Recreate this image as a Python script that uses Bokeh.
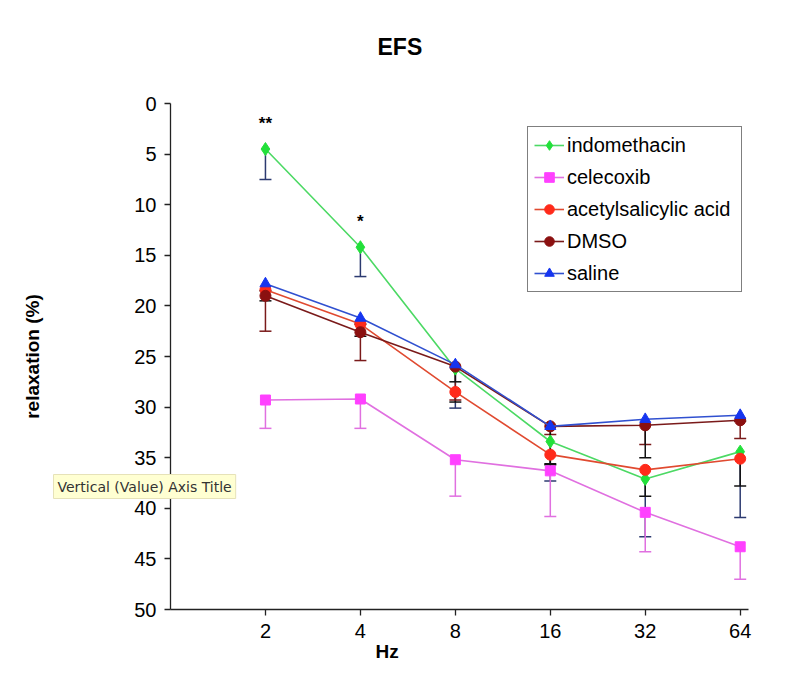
from bokeh.plotting import figure
from bokeh.models import (ColumnDataSource, Range1d, FixedTicker, NumeralTickFormatter,
                          Whisker, TeeHead, Legend, LegendItem, Title, Label)
from bokeh.core.properties import value
from bokeh.embed import file_html
from bokeh.resources import INLINE

# ---------------- data ----------------
freq = [2, 4, 8, 16, 32, 64]
y_ticks = [0, 5, 10, 15, 20, 25, 30, 35, 40, 45, 50]

indomethacin = [4.5, 14.2, 26.2, 33.4, 37.1, 34.4]
indomethacin_err = [3.0, 2.9, 3.9, 3.9, 5.7, 6.5]
celecoxib = [29.3, 29.2, 35.2, 36.3, 40.4, 43.8]
celecoxib_err = [2.8, 2.9, 3.6, 4.5, 3.9, 3.2]
acetylsalicylic = [18.4, 21.8, 28.5, 34.7, 36.2, 35.1]
acetylsalicylic_err = [1.1, 1.2, 1.0, 1.0, 2.6, 2.7]
dmso = [19.0, 22.6, 26.0, 31.9, 31.8, 31.3]
dmso_err = [3.5, 2.8, 3.3, 0.8, 1.9, 1.8]
saline = [17.8, 21.2, 25.8, 31.9, 31.2, 30.8]
saline_err = [0.7, 0.6, 1.7, 3.7, 3.8, 0.6]

sig_freq = [2, 4]
sig_marks = ["**", "*"]
sig_base = [indomethacin[0], indomethacin[1]]

FONT = "Liberation Sans"

p = figure(width=785, height=679, output_backend="svg", toolbar_location=None,
           x_axis_type="log", x_range=Range1d(1, 68), y_range=Range1d(50, 0),
           min_border_left=170, min_border_right=37, min_border_top=103, min_border_bottom=70,
           title=None)
p.outline_line_color = None
p.xgrid.visible = False
p.ygrid.visible = False
p.background_fill_color = "white"
p.border_fill_color = "white"

# axes
xa = p.xaxis[0]
xa.ticker = FixedTicker(ticks=freq)
xa.formatter = NumeralTickFormatter(format="0")
xa.minor_tick_line_color = None
xa.major_tick_in = 0
xa.major_tick_out = 6
xa.major_label_standoff = 8
xa.major_label_text_font = FONT
xa.major_label_text_font_size = "20px"
xa.major_label_text_color = "black"
xa.axis_line_color = "#222222"
xa.major_tick_line_color = "#222222"
xa.axis_line_width = 1.3
xa.major_tick_line_width = 1.3

ya = p.yaxis[0]
ya.ticker = FixedTicker(ticks=y_ticks)
ya.minor_tick_line_color = None
ya.major_tick_in = 0
ya.major_tick_out = 6
ya.major_label_standoff = 8
ya.major_label_text_font = FONT
ya.major_label_text_font_size = "20px"
ya.major_label_text_color = "black"
ya.axis_line_color = "#222222"
ya.major_tick_line_color = "#222222"
ya.axis_line_width = 1.3
ya.major_tick_line_width = 1.3
ya.axis_label = "relaxation (%)"
ya.axis_label_text_font = FONT
ya.axis_label_text_font_style = "bold"
ya.axis_label_text_font_size = "19px"
ya.axis_label_text_color = "black"
ya.axis_label_standoff = 88

# titles (spacer first so EFS sits farther from the frame)
p.add_layout(Title(text=" ", text_font_size="10px", standoff=31), "above")
p.add_layout(Title(text="EFS", text_font=FONT, text_font_style="bold", text_font_size="23px",
                   text_color="black", align="left", offset=207, standoff=0,
                   vertical_align="bottom"), "above")
p.add_layout(Title(text="Hz", text_font=FONT, text_font_style="bold", text_font_size="19px",
                   text_color="black", align="left", offset=205, standoff=0,
                   vertical_align="top"), "below")

series = [
    ("indomethacin", indomethacin, indomethacin_err, "#4CD964", "#22E03A", "diamond", 13, "#2C3A70"),
    ("celecoxib", celecoxib, celecoxib_err, "#E070E0", "#FF40FF", "square", 10, "#E070E0"),
    ("acetylsalicylic acid", acetylsalicylic, acetylsalicylic_err, "#E04A30", "#FF2A1A", "circle", 11, "#111111"),
    ("DMSO", dmso, dmso_err, "#7A1A1A", "#8B1010", "circle", 11, "#7A1A1A"),
    ("saline", saline, saline_err, "#3050D0", "#1535F0", "triangle", 11, "#111111"),
]

items = []
for name, vals, errs, lcol, mcol, marker, msize, ecol in series:
    src = ColumnDataSource(dict(x=freq, y=vals, upper=[v + e for v, e in zip(vals, errs)]))
    w = Whisker(base="x", upper="upper", lower="y", source=src, line_color=ecol, line_width=1.5,
                upper_head=TeeHead(size=12, line_color=ecol, line_width=1.5), lower_head=None)
    p.add_layout(w)
    r1 = p.line("x", "y", source=src, line_color=lcol, line_width=1.6)
    r2 = p.scatter("x", "y", source=src, marker=marker, size=msize, fill_color=mcol,
                   line_color=mcol)
    items.append(LegendItem(label=name, renderers=[r1, r2]))

legend = Legend(items=items, location=(357, 317), border_line_color="black", border_line_width=1.2,
                background_fill_color="white", background_fill_alpha=1.0,
                label_text_font=FONT, label_text_font_size="20px", label_text_color="black",
                padding=6, spacing=8, label_height=24, glyph_height=24, glyph_width=30,
                label_standoff=3, label_width=168, margin=0)
p.add_layout(legend, "center")

# significance marks
p.text(x=sig_freq, y=sig_base, text=sig_marks, y_offset=-16, text_align="center",
       text_baseline="bottom", text_font=value(FONT), text_font_style="bold",
       text_font_size="17px", text_color="black")

# tooltip seen in the screenshot (in a side panel so it is not clipped to the frame)
tip = Label(x=-117, y=-455, x_units="screen", y_units="screen",
            text="Vertical (Value) Axis Title", text_font="DejaVu Sans",
            text_font_size="14px", text_color="#333333", text_baseline="middle", text_align="left",
            background_fill_color="#FFFFD2", background_fill_alpha=1.0,
            border_line_color="#E6E2B8", padding=4)
p.add_layout(tip, "above")

open("out.html", "w").write(file_html(p, INLINE))
